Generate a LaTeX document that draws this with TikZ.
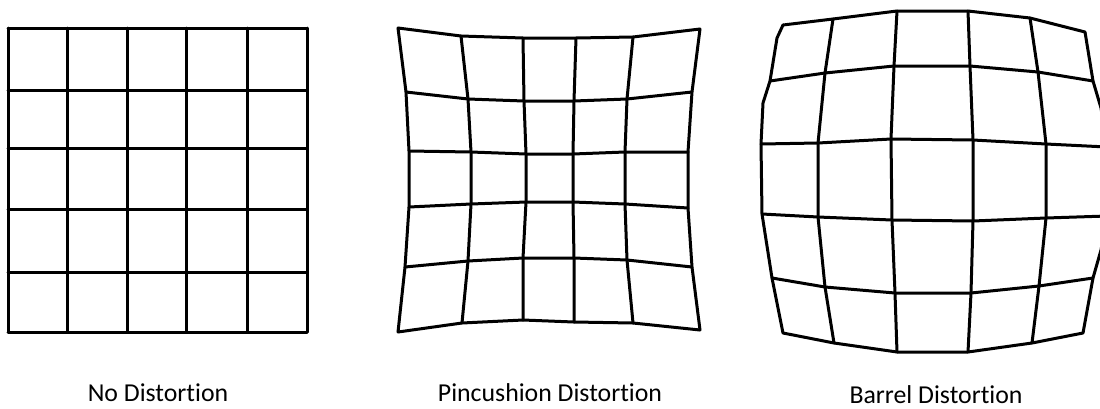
\documentclass[tikz,border=0pt]{standalone}
\usepackage{fontspec}
\setmainfont{Carlito}[Ligatures=NoCommon]
\usepackage{tikz}
\usetikzlibrary{positioning}

\begin{document}
\begin{tikzpicture}[
    x=1pt, y=-1pt,
    gridline/.style={draw=black, line width=3pt, line join=round, line cap=round},
    caption/.style={anchor=base, inner sep=0pt, font=\fontsize{25.8}{30}\selectfont}
]
    \useasboundingbox (0,0) rectangle (1100,408);
    \clip (0,0) rectangle (1100,408);

    % no distortion
    \foreach \x [count=\c from 0] in {8,67,127,186,247,307}
        \foreach \y [count=\r from 0] in {28,90,148,209,272,332}
            \coordinate (flat-\r-\c) at (\x,\y);

    % pincushion
    \foreach \pts [count=\r from 0] in {
        {398/28,461/36,523/38,576/38,633/37,700/29},
        {406/92,468/99,524/101,574/101,627/99,692/92},
        {409/151,471/152,526/154,573/154,625/152,688/152},
        {409/207,471/204,526/202,573/202,625/204,688/208},
        {405/267,468/261,523/258,574/258,627/260,692/267},
        {398/332,462/323,523/320,574/322,633/323,700/330}}
        \foreach \x/\y [count=\c from 0] in \pts
            \coordinate (pin-\r-\c) at (\x,\y);

    % barrel
    \foreach \pts [count=\r from 0] in {
        {783/25,833/19,897/11,968/11,1030/18,1085/32},
        {770/81,825/73,894/66,970/66,1038/72,1093/81},
        {761/144,818/143,891/139,973/140,1046/144,1107/147},
        {762/214,818/217,892/220,973/221,1046/218,1107/216},
        {772/278,825/287,895/293,971/293,1039/286,1093/278},
        {783/333,834/343,897/352,968/352,1032/343,1083/333}}
        \foreach \x/\y [count=\c from 0] in \pts
            \coordinate (bar-\r-\c) at (\x,\y);
    \coordinate (bar-l1) at (777,38);
    \coordinate (bar-l2) at (763,103);
    \coordinate (bar-r2) at (1101,108);
    \coordinate (bar-r3) at (1101,250);

    \foreach \g in {flat,pin} {
        \foreach \r in {0,...,5}
            \draw[gridline] (\g-\r-0) \foreach \c in {1,...,5} {-- (\g-\r-\c)};
        \foreach \c in {0,...,5}
            \draw[gridline] (\g-0-\c) \foreach \r in {1,...,5} {-- (\g-\r-\c)};
    }

    \foreach \r in {0,...,5}
        \draw[gridline] (bar-\r-0) \foreach \c in {1,...,5} {-- (bar-\r-\c)};
    \foreach \c in {1,...,4}
        \draw[gridline] (bar-0-\c) \foreach \r in {1,...,5} {-- (bar-\r-\c)};
    \draw[gridline] (bar-0-0) -- (bar-l1) -- (bar-1-0) -- (bar-l2) -- (bar-2-0)
        -- (bar-3-0) -- (bar-4-0) -- (bar-5-0);
    \draw[gridline] (bar-0-5) -- (bar-1-5) -- (bar-r2) -- (bar-2-5)
        -- (bar-3-5) -- (bar-r3) -- (bar-4-5) -- (bar-5-5);

    \node[caption] (nodist) at (158,401.7) {No Distort\kern0pt ion};
    \node[caption] (pindist) at (550,401.7) {Pincushion Distort\kern0pt ion};
    \node[caption] (bardist) at (936,403) {Barrel Distort\kern0pt ion};
\end{tikzpicture}
\end{document}
